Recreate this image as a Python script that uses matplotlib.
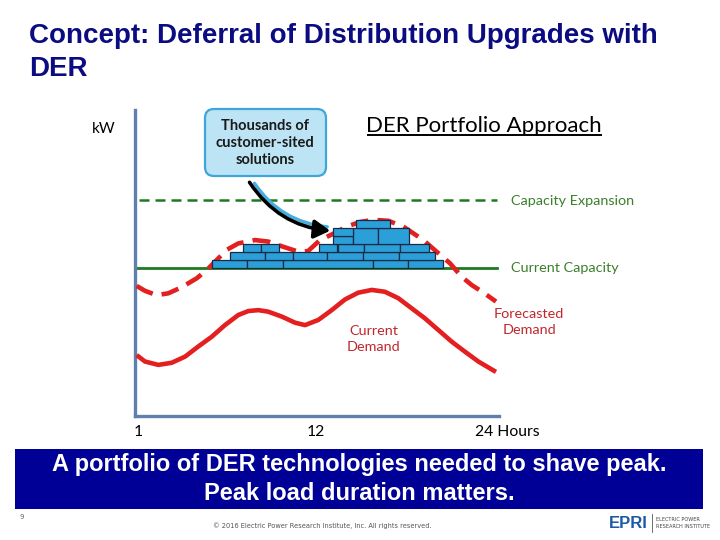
import matplotlib
matplotlib.use("Agg")
import matplotlib.pyplot as plt
from matplotlib.patches import FancyBboxPatch, FancyArrowPatch, Rectangle

# ---- data (hours on x, kW in arbitrary units 0-100 on y) ----
current_hours = [0.11, 0.66, 1.54, 2.42, 3.30, 4.17, 5.06, 5.93, 6.81, 7.47, 8.13, 8.78,
                 9.67, 10.55, 11.21, 12.09, 12.97, 13.85, 14.72, 15.61, 16.48, 17.36,
                 18.24, 19.12, 20.0, 20.88, 21.76, 22.64, 23.80]
current_kw = [19.9, 17.8, 16.7, 17.4, 19.4, 22.7, 25.9, 29.7, 33.0, 34.3, 34.6, 34.1,
              32.5, 30.5, 29.7, 31.4, 34.6, 38.1, 40.3, 41.2, 40.6, 38.5,
              35.2, 31.9, 28.1, 24.3, 21.0, 17.8, 14.4]

forecast_hours = [0.11, 0.66, 1.43, 2.20, 3.08, 4.07, 4.73, 5.39, 6.05, 6.81, 7.91, 8.79,
                  9.78, 10.77, 11.41, 12.20, 13.05, 13.96, 14.84, 15.71, 16.70, 17.69,
                  19.01, 20.0, 20.77, 21.54, 22.20, 23.01, 23.80]
forecast_kw = [42.5, 40.9, 39.5, 40.1, 42.1, 45.0, 47.7, 51.0, 54.3, 56.4, 57.5, 57.0,
               55.3, 53.7, 53.9, 57.5, 59.5, 61.9, 63.4, 64.1, 63.8, 61.9,
               57.5, 53.2, 49.9, 45.5, 42.8, 40.2, 37.4]

current_capacity = 48.4
capacity_expansion = 70.6

# DER blocks: left hour, right hour, bottom kW, height kW
block_left = [5.08, 7.38, 9.76, 15.69, 18.00,
              6.26, 8.57, 10.42, 12.66, 15.03, 17.41,
              7.12, 8.31, 12.13, 13.38, 15.10, 17.47,
              13.05, 14.37, 16.02,
              13.05,
              14.57]
block_right = [7.38, 9.76, 15.69, 18.00, 20.31,
               8.57, 10.42, 12.66, 15.03, 17.41, 19.78,
               8.31, 9.49, 13.32, 15.10, 17.47, 19.38,
               14.37, 16.02, 18.07,
               14.37,
               16.81]
block_bottom = [48.4] * 5 + [51.0] * 6 + [53.6] * 6 + [56.2] * 3 + [58.8] + [61.4]
block_height = [2.6] * 17 + [2.6, 5.2, 5.2] + [2.6] + [2.6]

tick_labels = ["1", "12", "24 Hours"]

RED = "#E3201F"
GREEN = "#1E7A1E"
TXT_GREEN = "#3B7F2B"
TXT_RED = "#C0272D"
NAVY = "#0B0B82"

fig = plt.figure(figsize=(7.2, 5.4), dpi=100)
fig.patch.set_facecolor("white")

# ---- chart axes ----
ax = fig.add_axes([135 / 720, 1 - 416 / 540, 364 / 720, 306 / 540])
ax.patch.set_visible(False)
ax.set_xlim(0, 24)
ax.set_ylim(0, 100)
for s in ["top", "right"]:
    ax.spines[s].set_visible(False)
for s in ["left", "bottom"]:
    ax.spines[s].set_color("#5F80AC")
    ax.spines[s].set_linewidth(2.4)
ax.set_xticks([])
ax.set_yticks([])

ax.axhline(current_capacity, xmin=0, xmax=23.87 / 24, color=GREEN, lw=2.0, zorder=2)
ax.axhline(capacity_expansion, xmin=0.01, xmax=23.87 / 24, color=GREEN, lw=1.8,
           dashes=(4, 2.4), zorder=2)

ax.plot(current_hours, current_kw, color=RED, lw=3.3, solid_capstyle="butt",
        solid_joinstyle="round", zorder=3)
ax.plot(forecast_hours, forecast_kw, color=RED, lw=3.3, dashes=(3.9, 2.0),
        dash_joinstyle="round", zorder=3)

widths = [r - l for l, r in zip(block_left, block_right)]
ax.bar(block_left, block_height, width=widths, bottom=block_bottom, align="edge",
       color="#2A9FD8", edgecolor="#1B2A48", linewidth=0.9, zorder=4)

# ---- slide overlay in pixel coords ----
ov = fig.add_axes([0, 0, 1, 1])
ov.patch.set_visible(False)
ov.set_xlim(0, 720)
ov.set_ylim(540, 0)
ov.axis("off")

ov.text(29, 36, "Concept: Deferral of Distribution Upgrades with", fontsize=20,
        fontweight="bold", color=NAVY, family="Liberation Sans", va="center")
ov.text(29, 69, "DER", fontsize=20, fontweight="bold", color=NAVY,
        family="Liberation Sans", va="center")

ov.text(104, 129, "kW", fontsize=11, family="Lato", ha="center", va="center")

ov.text(484, 132, "DER Portfolio Approach", fontsize=16, family="Lato",
        ha="center", va="baseline")
ov.plot([368, 601], [135, 135], color="black", lw=1.4)

# bubble + arrow
tail = FancyArrowPatch((253, 181), (330, 227), arrowstyle="-",
                       connectionstyle="arc3,rad=0.25", color="#45B0E0", lw=2.4, zorder=5)
ov.add_patch(tail)
bubble = FancyBboxPatch((205, 109), 121, 67, boxstyle="round,pad=0,rounding_size=9",
                        facecolor="#BDE4F4", edgecolor="#3EA6D8", lw=1.6, zorder=5)
ov.add_patch(bubble)
ov.text(265, 143, "Thousands of\ncustomer-sited\nsolutions", fontsize=10.5,
        family="Lato", fontweight="bold", ha="center", va="center",
        linespacing=1.3, color="#1a1a1a", zorder=6)
arrow = FancyArrowPatch((248, 180), (333, 231), arrowstyle="-|>,head_length=6,head_width=3.5",
                        connectionstyle="arc3,rad=0.25", color="black", lw=2.6,
                        mutation_scale=1.6, zorder=6)
ov.add_patch(arrow)

ov.text(511, 201, "Capacity Expansion", fontsize=10.4, family="Lato",
        color=TXT_GREEN, va="center")
ov.text(511, 268, "Current Capacity", fontsize=10.4, family="Lato",
        color=TXT_GREEN, va="center")
ov.text(374, 339, "Current\nDemand", fontsize=10.4, family="Lato", color=TXT_RED,
        ha="center", va="center", linespacing=1.4)
ov.text(529, 322, "Forecasted\nDemand", fontsize=10.4, family="Lato", color=TXT_RED,
        ha="center", va="center", linespacing=1.4)

for x, lab in zip([138, 316, 507], tick_labels):
    ov.text(x, 432, lab, fontsize=11.3, family="Lato", ha="center", va="center")

# banner
ov.add_patch(Rectangle((15, 449), 688, 60, facecolor="#000096", edgecolor="none"))
ov.text(359, 465, "A portfolio of DER technologies needed to shave peak.",
        fontsize=17, fontweight="bold", family="Liberation Sans", color="white",
        ha="center", va="center")
ov.text(359, 494, "Peak load duration matters.", fontsize=17, fontweight="bold",
        family="Liberation Sans", color="white", ha="center", va="center")

# footer
ov.text(22, 517, "9", fontsize=5, color="#666666", ha="center", va="center")
ov.text(322, 526, "\u00a9 2016 Electric Power Research Institute, Inc. All rights reserved.",
        fontsize=4.8, color="#555555", ha="center", va="center")
ov.text(628, 523, "EPRI", fontsize=12, fontweight="bold", color="#1C5AA6",
        family="Liberation Sans", ha="center", va="center")
ov.plot([652, 652], [514, 532], color="#555555", lw=0.6)
ov.text(656, 523, "ELECTRIC POWER\nRESEARCH INSTITUTE", fontsize=3.6, color="#444444",
        va="center", linespacing=1.3)

fig.savefig("out.png", dpi=100)
